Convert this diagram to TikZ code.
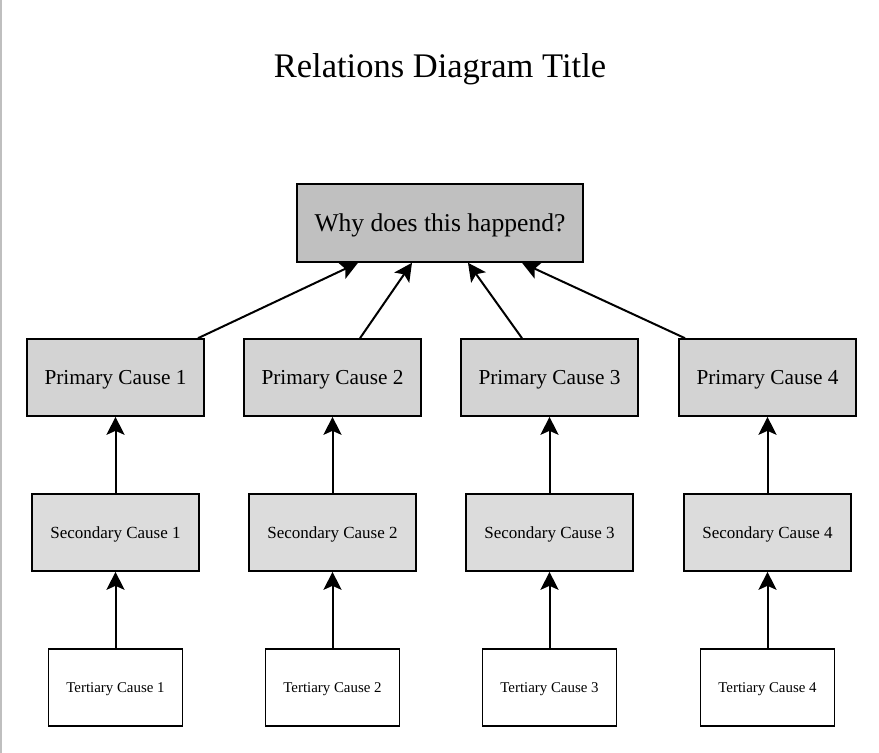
\documentclass[tikz,border=0pt]{standalone}
\usepackage{fontspec}
\setmainfont{Liberation Serif}
\usetikzlibrary{arrows.meta,calc}
\definecolor{topfill}{HTML}{C0C0C0}
\definecolor{primfill}{HTML}{D3D3D3}
\definecolor{secfill}{HTML}{DCDCDC}
\definecolor{edgegray}{HTML}{BFBFBF}
\begin{document}
\begin{tikzpicture}[x=1pt,y=-1pt,
  box/.style={draw=black, line width=1.6pt, rectangle, inner sep=0pt, anchor=center, text depth=0pt},
  topbox/.style={box, fill=topfill, minimum width=286pt, minimum height=78pt, font=\fontsize{25.6}{30}\selectfont, text height=16.9pt},
  primbox/.style={box, fill=primfill, minimum width=177pt, minimum height=77pt, font=\fontsize{21.3}{25}\selectfont, text height=14.1pt},
  secbox/.style={box, fill=secfill, minimum width=167pt, minimum height=77pt, font=\fontsize{17}{20}\selectfont, text height=11.2pt},
  terbox/.style={box, fill=white, minimum width=134pt, minimum height=77pt, font=\fontsize{14.9}{18}\selectfont, text height=9.8pt},
  conn/.style={line width=2pt, -{Stealth[length=18pt,width=18pt,inset=4pt]}}
]
\useasboundingbox (0,0) rectangle (879,753);
\fill[white] (0,0) rectangle (879,753);
\draw[edgegray, line width=1.5pt] (0.75,0) -- (0.75,753);

\node[font=\fontsize{34.5}{40}\selectfont, text height=22.8pt, text depth=0pt, inner sep=0pt] (title) at (440,66) {Relations Diagram Title};

\node[topbox] (top) at (440,223) {Why does this happend?};

\node[primbox] (p1) at (115.5,377.5) {Primary Cause 1};
\node[primbox] (p2) at (332.5,377.5) {Primary Cause 2};
\node[primbox] (p3) at (549.5,377.5) {Primary Cause 3};
\node[primbox] (p4) at (767.5,377.5) {Primary Cause 4};

\node[secbox] (s1) at (115.5,532.5) {Secondary Cause 1};
\node[secbox] (s2) at (332.5,532.5) {Secondary Cause 2};
\node[secbox] (s3) at (549.5,532.5) {Secondary Cause 3};
\node[secbox] (s4) at (767.5,532.5) {Secondary Cause 4};

\node[terbox] (t1) at (115.5,687.5) {Tertiary Cause 1};
\node[terbox] (t2) at (332.5,687.5) {Tertiary Cause 2};
\node[terbox] (t3) at (549.5,687.5) {Tertiary Cause 3};
\node[terbox] (t4) at (767.5,687.5) {Tertiary Cause 4};

\draw[conn] ($(p1.north)+(82.5,0)$) -- ($(top.south)+(-82,0)$);
\draw[conn] ($(p2.north)+(27.5,0)$) -- ($(top.south)+(-28,0)$);
\draw[conn] ($(p3.north)+(-27.5,0)$) -- ($(top.south)+(28,0)$);
\draw[conn] ($(p4.north)+(-82.5,0)$) -- ($(top.south)+(82,0)$);

\foreach \i in {1,2,3,4}{
  \draw[conn] (s\i.north) -- (p\i.south);
  \draw[conn] (t\i.north) -- (s\i.south);
}
\end{tikzpicture}
\end{document}
